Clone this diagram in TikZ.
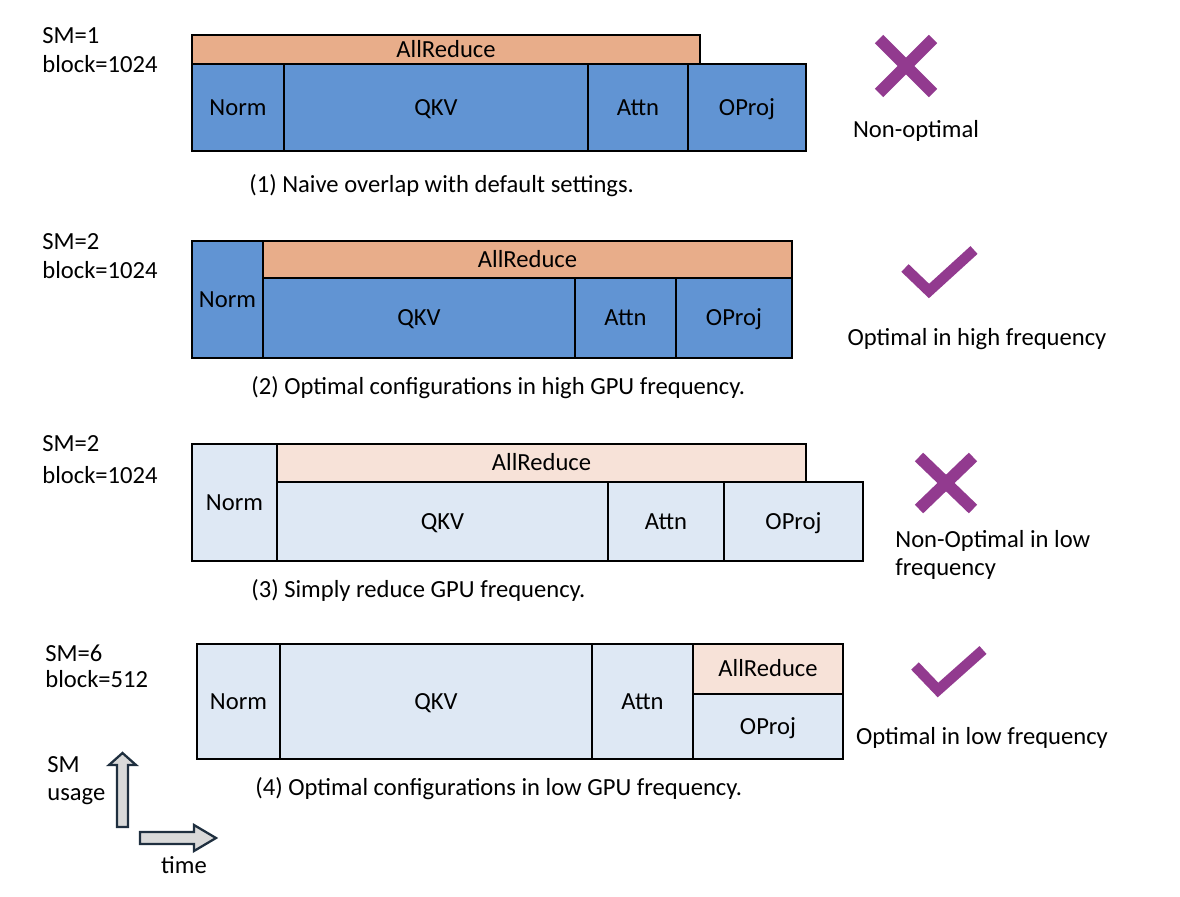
\documentclass[tikz,border=0pt]{standalone}
\usepackage{fontspec}
\setmainfont{Carlito}
\usetikzlibrary{fit}
\definecolor{dkblue}{HTML}{6194D3}
\definecolor{dkorange}{HTML}{E8AD8A}
\definecolor{ltblue}{HTML}{DEE8F4}
\definecolor{ltorange}{HTML}{F7E2D8}
\definecolor{mark}{HTML}{923A8F}
\definecolor{arrowline}{HTML}{1F2F3F}
\definecolor{arrowfill}{HTML}{D9D9D9}
\tikzset{
  txt/.style={inner sep=0pt, font=\fontsize{14}{16}\selectfont, text height=9pt, text depth=0pt},
  blk/.style={draw=black, line width=1.2pt, inner sep=0pt},
  dblue/.style={blk, fill=dkblue},
  dorange/.style={blk, fill=dkorange},
  lblue/.style={blk, fill=ltblue},
  lorange/.style={blk, fill=ltorange},
  lbl/.style={label={[txt]center:#1}},
  cross/.style={draw=mark, line width=6.8pt, line cap=butt},
  tick/.style={draw=mark, line width=6pt, line cap=butt, line join=miter},
  fatarrow/.style={draw=arrowline, fill=arrowfill, line width=1.3pt, line join=miter}
}
\begin{document}
\begin{tikzpicture}[x=0.02cm, y=-0.02cm]
\useasboundingbox (0,0) rectangle (1180,896);
% ---------- Row 1 ----------
\node[txt, anchor=west] (sm1) at (42,36) {SM=1};
\node[txt, anchor=west] (b1) at (42,65) {block=1024};
\node[dorange, fit={(192,35)(700,64)}, lbl=AllReduce] (ar1) {};
\node[dblue, fit={(192,64)(284,151)}, lbl=Norm] (n1) {};
\node[dblue, fit={(284,64)(588,151)}, lbl=QKV] (q1) {};
\node[dblue, fit={(588,64)(688,151)}, lbl=Attn] (a1) {};
\node[dblue, fit={(688,64)(806,151)}, lbl=OProj] (o1) {};
\node[txt, anchor=west] (c1) at (249,185) {(1) Naive overlap with default settings.};
\coordinate (x1a) at (879,39); \coordinate (x1b) at (933,93);
\coordinate (x1c) at (879,93); \coordinate (x1d) at (933,39);
\draw[cross] (x1a) -- (x1b); \draw[cross] (x1c) -- (x1d);
\node[txt] (r1) at (916,130) {Non-optimal};
% ---------- Row 2 ----------
\node[txt, anchor=west] (sm2) at (42,242) {SM=2};
\node[txt, anchor=west] (b2) at (42,271) {block=1024};
\node[dblue, fit={(192,241)(263,358)}, lbl=Norm] (n2) {};
\node[dorange, fit={(263,241)(792,278)}, lbl=AllReduce] (ar2) {};
\node[dblue, fit={(263,278)(575,358)}, lbl=QKV] (q2) {};
\node[dblue, fit={(575,278)(676,358)}, lbl=Attn] (a2) {};
\node[dblue, fit={(676,278)(792,358)}, lbl=OProj] (o2) {};
\node[txt, anchor=west] (c2) at (251,387) {(2) Optimal configurations in high GPU frequency.};
\coordinate (t2a) at (905,268); \coordinate (t2b) at (929,291); \coordinate (t2c) at (974,250);
\draw[tick] (t2a) -- (t2b) -- (t2c);
\node[txt] (r2) at (977,338) {Optimal in high frequency};
% ---------- Row 3 ----------
\node[txt, anchor=west] (sm3) at (42,444) {SM=2};
\node[txt, anchor=west] (b3) at (42,476) {block=1024};
\node[lblue, fit={(192,444)(277,561)}, lbl=Norm] (n3) {};
\node[lorange, fit={(277,444)(806,482)}, lbl=AllReduce] (ar3) {};
\node[lblue, fit={(277,482)(608,561)}, lbl=QKV] (q3) {};
\node[lblue, fit={(608,482)(724,561)}, lbl=Attn] (a3) {};
\node[lblue, fit={(724,482)(863,561)}, lbl=OProj] (o3) {};
\node[txt, anchor=west] (c3) at (251,590) {(3) Simply reduce GPU frequency.};
\coordinate (x3a) at (919,457); \coordinate (x3b) at (973,509);
\coordinate (x3c) at (919,509); \coordinate (x3d) at (973,457);
\draw[cross] (x3a) -- (x3b); \draw[cross] (x3c) -- (x3d);
\node[txt, anchor=west] (r3a) at (895,540) {Non-Optimal in low};
\node[txt, anchor=west] (r3b) at (895,568) {frequency};
% ---------- Row 4 ----------
\node[txt, anchor=west] (sm4) at (45,654) {SM=6};
\node[txt, anchor=west] (b4) at (45,680) {block=512};
\node[lblue, fit={(197,644)(280,759)}, lbl=Norm] (n4) {};
\node[lblue, fit={(280,644)(592,759)}, lbl=QKV] (q4) {};
\node[lblue, fit={(592,644)(693,759)}, lbl=Attn] (a4) {};
\node[lorange, fit={(693,644)(843,694)}, lbl=AllReduce] (ar4) {};
\node[lblue, fit={(693,694)(843,759)}, lbl=OProj] (o4) {};
\node[txt, anchor=west] (c4) at (255,788) {(4) Optimal configurations in low GPU frequency.};
\coordinate (t4a) at (915,666); \coordinate (t4b) at (938,690); \coordinate (t4c) at (983,650);
\draw[tick] (t4a) -- (t4b) -- (t4c);
\node[txt] (r4) at (982,737) {Optimal in low frequency};
% ---------- Axes legend ----------
\draw[fatarrow] (117,827) -- (117,765) -- (109,765) -- (122.5,753) -- (136,765) -- (128,765) -- (128,827) -- cycle;
\draw[fatarrow] (140,832) -- (194,832) -- (194,825) -- (216,838) -- (194,851) -- (194,844) -- (140,844) -- cycle;
\node[txt, anchor=west] (smu1) at (47,765) {SM};
\node[txt, anchor=west] (smu2) at (47,793) {usage};
\node[txt] (tm) at (184,866) {time};
\end{tikzpicture}
\end{document}
